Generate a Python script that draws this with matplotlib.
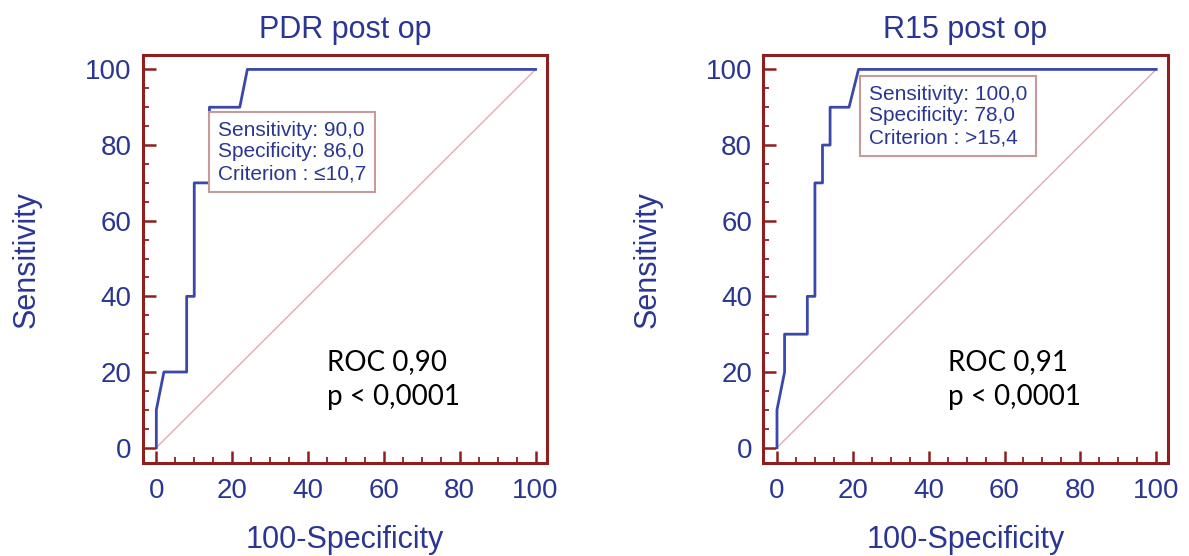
import numpy as np
import matplotlib.pyplot as plt
from matplotlib.ticker import MultipleLocator

# ROC curve points (100-Specificity, Sensitivity)
titles = ["PDR post op", "R15 post op"]
pdr_fpr = [0, 0, 2, 8, 8, 10, 10, 14, 14, 22, 24, 100]
pdr_sens = [0, 10, 20, 20, 40, 40, 70, 70, 90, 90, 100, 100]
r15_fpr = [0, 0, 2, 2, 8, 8, 10, 10, 12, 12, 14, 14, 19, 21.5, 100]
r15_sens = [0, 10, 20, 30, 30, 40, 40, 70, 70, 80, 80, 90, 90, 100, 100]
box_texts = ["Sensitivity: 90,0\nSpecificity: 86,0\nCriterion : \u226410,7",
             "Sensitivity: 100,0\nSpecificity: 78,0\nCriterion : >15,4"]
roc_texts = ["ROC 0,90\np < 0,0001", "ROC 0,91\np < 0,0001"]
ticks = [0, 20, 40, 60, 80, 100]

frame_col = '#8e1f1f'
blue = '#3b48aa'
text_blue = '#2b3692'

plt.rcParams['font.family'] = ['Liberation Sans', 'DejaVu Sans']

fig = plt.figure(figsize=(11.89, 5.56), dpi=100)
axes = [fig.add_axes([0.120, 0.167, 0.340, 0.734]),
        fig.add_axes([0.642, 0.167, 0.340, 0.734])]
curves = [(pdr_fpr, pdr_sens), (r15_fpr, r15_sens)]
box_pos = [(16.2, 78.2), (24.3, 87.7)]

for i, ax in enumerate(axes):
    xs, ys = curves[i]
    ax.plot([0, 100], [0, 100], color='#e3a9b0', lw=1.0, zorder=1)
    ax.plot(xs, ys, color=blue, lw=2.0, zorder=2)
    ax.set_xlim(-3.6, 103)
    ax.set_ylim(-4.1, 103.8)
    for s in ax.spines.values():
        s.set_color(frame_col)
        s.set_linewidth(2.2)
    ax.set_xticks(ticks)
    ax.set_yticks(ticks)
    ax.xaxis.set_minor_locator(MultipleLocator(5))
    ax.yaxis.set_minor_locator(MultipleLocator(5))
    ax.tick_params(which='major', direction='in', length=9, width=1.8,
                   color=frame_col, labelsize=20, labelcolor=text_blue, pad=8)
    ax.tick_params(which='minor', direction='in', length=4.5, width=1.3,
                   color=frame_col)
    ax.tick_params(axis='x', which='both', pad=11)
    ax.set_title(titles[i], fontsize=22, color=text_blue, pad=12)
    ax.set_xlabel("100-Specificity", fontsize=22, color=text_blue, labelpad=15)
    ax.set_ylabel("Sensitivity", fontsize=22, color=text_blue, labelpad=31)
    bx, by = box_pos[i]
    ax.text(bx, by, box_texts[i], ha='left', va='center', fontsize=15,
            color=text_blue, linespacing=1.18, zorder=3,
            bbox=dict(boxstyle='square,pad=0.42', fc='white', ec='#c79a9a', lw=1.5))
    ax.text(45, 18, roc_texts[i], ha='left', va='center', fontsize=20,
            family=['Lato', 'DejaVu Sans'], color='black', linespacing=1.45)

fig.savefig('out.png', dpi=100)
